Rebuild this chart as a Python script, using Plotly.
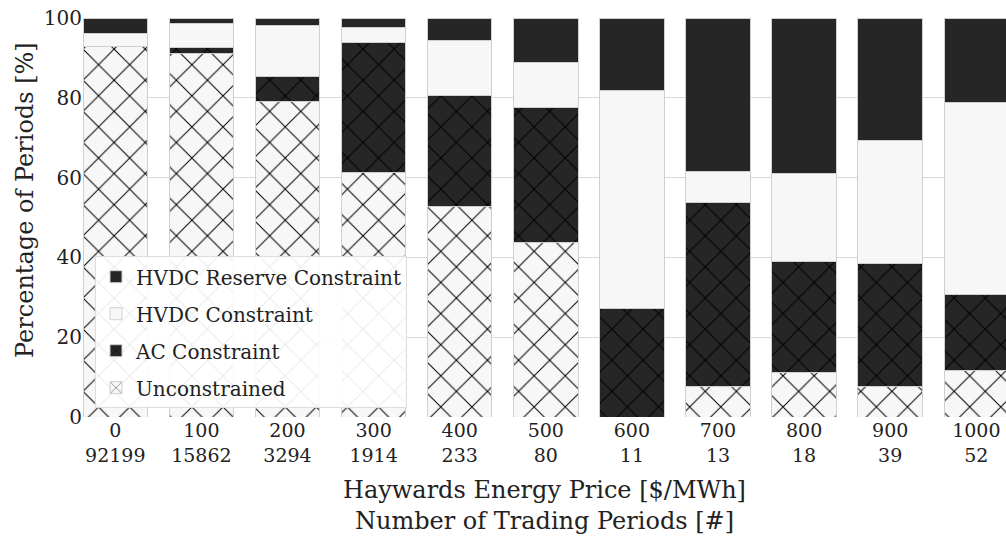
import plotly.graph_objects as go

prices = ["0", "100", "200", "300", "400", "500", "600", "700", "800", "900", "1000"]
periods = ["92199", "15862", "3294", "1914", "233", "80", "11", "13", "18", "39", "52"]

unconstrained = [92.8, 91.0, 79.0, 61.4, 52.8, 43.75, 0.0, 7.69, 11.11, 7.69, 11.54]
ac_constraint = [0.0, 1.5, 6.4, 32.5, 27.9, 33.75, 27.27, 46.15, 27.78, 30.77, 19.23]
hvdc_constraint = [3.3, 6.0, 12.7, 3.6, 13.7, 11.25, 54.55, 7.69, 22.22, 30.77, 48.08]
hvdc_reserve = [3.9, 1.5, 1.9, 2.5, 5.6, 11.25, 18.18, 38.46, 38.89, 30.77, 21.15]

DARK = "#262626"
LIGHT = "#f7f7f7"
EDGE = "#cfcfcf"
FONT = "DejaVu Serif"

xs = list(range(len(prices)))
ticktext = [f"{p}<br>{n}" for p, n in zip(prices, periods)]

fig = go.Figure()
series = [
    ("Unconstrained", unconstrained, LIGHT, "x", 4),
    ("AC Constraint", ac_constraint, DARK, "x", 3),
    ("HVDC Constraint", hvdc_constraint, LIGHT, "", 2),
    ("HVDC Reserve Constraint", hvdc_reserve, DARK, "", 1),
]
for i, (name, vals, col, shape, rank) in enumerate(series):
    pattern = dict(shape=shape, fgcolor="#000000", bgcolor=col, size=22,
                   solidity=0.09, fillmode="replace") if shape else dict(shape="")
    fig.add_trace(go.Bar(
        x=xs, y=vals, name=name, width=0.75, legendgroup=f"g{i}", legendrank=rank,
        marker=dict(color=col, line=dict(color=EDGE, width=1), pattern=pattern),
    ))

fig.update_layout(
    barmode="stack",
    width=1006, height=537,
    margin=dict(l=83, r=0, t=18, b=120),
    plot_bgcolor="white", paper_bgcolor="white",
    font=dict(family=FONT, size=19, color="#222222"),
    legend=dict(
        x=0.013, y=0.403, xanchor="left", yanchor="top",
        traceorder="grouped", tracegroupgap=8,
        bgcolor="rgba(255,255,255,0.92)", bordercolor="#dddddd", borderwidth=1,
        font=dict(family=FONT, size=20, color="#222222"),
    ),
    xaxis=dict(
        tickmode="array", tickvals=xs, ticktext=ticktext,
        range=[-0.375, 10.345], showgrid=False, zeroline=False,
        showline=False, ticks="",
        tickfont=dict(family=FONT, size=19),
        title=dict(text="Haywards Energy Price [$/MWh]<br>Number of Trading Periods [#]",
                   font=dict(family=FONT, size=24), standoff=16),
    ),
    yaxis=dict(
        range=[0, 100], tickvals=[0, 20, 40, 60, 80, 100],
        showgrid=True, gridcolor="#d9d9d9", gridwidth=1,
        zeroline=False, showline=False, ticks="",
        tickfont=dict(family=FONT, size=20),
    ),
    annotations=[dict(
        text="Percentage of Periods [%]", textangle=-90,
        xref="paper", yref="paper",
        x=(25 - 83) / 923, y=(417 - 200) / 399,
        xanchor="center", yanchor="middle", showarrow=False,
        font=dict(family=FONT, size=24, color="#222222"),
    )],
)

fig.write_html("out.html")
